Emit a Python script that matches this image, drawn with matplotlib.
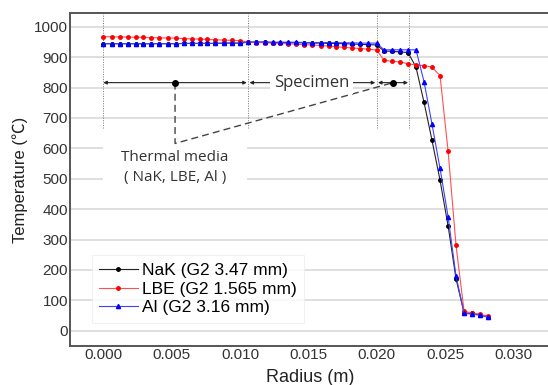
import matplotlib
matplotlib.use("Agg")
import matplotlib.pyplot as plt
from matplotlib.patches import Rectangle
from matplotlib.ticker import FormatStrFormatter

# ---------------- data ----------------
radius = [0.0000, 0.0006, 0.0012, 0.0018, 0.0024, 0.0029, 0.0035, 0.0041, 0.0047,
          0.0053, 0.0059, 0.0065, 0.0071, 0.0076, 0.0082, 0.0088, 0.0094, 0.0100,
          0.0106, 0.0112, 0.0118, 0.0124, 0.0129, 0.0135, 0.0141, 0.0147, 0.0153,
          0.0159, 0.0165, 0.0170, 0.0176, 0.0182, 0.0188, 0.0194, 0.0200,
          0.02054, 0.02113, 0.02171, 0.02230, 0.02288, 0.02347, 0.02405, 0.02464,
          0.02523, 0.02581, 0.02640, 0.02698, 0.02757, 0.02815]

nak = [944, 944, 944, 944, 944, 944, 944, 944, 944, 944, 945, 945, 945, 945, 945, 946, 946, 946,
       949, 949, 949, 948, 948, 948, 947, 947, 946, 946, 945, 945, 944, 943, 942, 941, 940,
       920, 919, 917, 915, 867, 751, 627, 495, 345, 171, 59, 57, 52, 46]

lbe = [967, 967, 966, 966, 965, 965, 964, 963, 963, 962, 961, 960, 959, 958, 957, 956, 955, 954,
       949, 948, 947, 946, 945, 944, 943, 941, 940, 938, 936, 934, 932, 930, 928, 926, 923,
       890, 886, 884, 878, 874, 872, 867, 839, 591, 281, 64, 59, 54, 48]

al = [944, 944, 944, 944, 944, 944, 944, 944, 944, 944, 945, 945, 945, 945, 945, 946, 946, 946,
      950, 950, 950, 949, 949, 949, 949, 948, 948, 948, 948, 947, 947, 947, 946, 946, 946,
      924, 924, 924, 924, 924, 819, 680, 534, 375, 180, 57, 55, 51, 45]

series_labels = ["NaK (G2 3.47 mm)", "LBE (G2 1.565 mm)", "Al (G2 3.16 mm)"]

region_bounds = [0.0, 0.0106, 0.0200, 0.0224]
arrow_y = 816
media_dot_x = 0.00525
gap_dot_x = 0.0212
xticks = [0.000, 0.005, 0.010, 0.015, 0.020, 0.025, 0.030]
yticks = [0, 100, 200, 300, 400, 500, 600, 700, 800, 900, 1000]

# ---------------- figure ----------------
plt.rcParams['font.family'] = ['Liberation Sans', 'Noto Sans CJK KR', 'DejaVu Sans']
fig = plt.figure(figsize=(5.48, 3.85), dpi=100)
ax = fig.add_axes([70/548, 39/385, 478/548, 333.3/385])

ax.set_xlim(-0.002437, 0.03254)
ax.set_ylim(-50, 1046)

ax.yaxis.grid(True, color='#dcdcdc', lw=1.3)
ax.set_axisbelow(True)

# region dotted lines
for b in region_bounds:
    ax.plot([b, b], [668, 1046], ls=(0, (1, 1.5)), color='#777777', lw=0.7, zorder=1)

ax.plot(radius, nak, color='#222222', lw=0.8, marker='o', ms=2.5, mfc='black', mec='black',
        label=series_labels[0], zorder=3)
ax.plot(radius, lbe, color='#ff5050', lw=0.8, marker='o', ms=2.5, mfc='red', mec='red',
        label=series_labels[1], zorder=3)
ax.plot(radius, al, color='#4040ff', lw=0.8, marker='^', ms=3.0, mfc='blue', mec='blue',
        label=series_labels[2], zorder=4)

# annotation arrows
ap = dict(arrowstyle='<|-|>', lw=0.8, color='#222222', shrinkA=0, shrinkB=0, mutation_scale=5)
ax.annotate('', xy=(region_bounds[1] - 0.0001, arrow_y), xytext=(region_bounds[0], arrow_y), arrowprops=ap)
ax.annotate('', xy=(region_bounds[2] - 0.0001, arrow_y), xytext=(region_bounds[1] + 0.0001, arrow_y), arrowprops=ap)
ax.annotate('', xy=(region_bounds[3] - 0.0001, arrow_y), xytext=(region_bounds[2] + 0.0001, arrow_y), arrowprops=ap)
ax.plot([media_dot_x, gap_dot_x], [arrow_y, arrow_y], 'o', color='black', ms=4, zorder=5)

ax.text(0.01524, arrow_y, 'Specimen', ha='center', va='center', fontsize=12,
        family=['Open Sans', 'DejaVu Sans'], color='#333333',
        bbox=dict(facecolor='white', edgecolor='none', pad=2.5), zorder=6)

# dashed leader lines
ax.plot([media_dot_x, media_dot_x, gap_dot_x], [arrow_y, 616, arrow_y], ls=(0, (5, 3)),
        color='#444444', lw=1.0, zorder=4)

# white box behind thermal media label
ax.add_patch(Rectangle((0.0, 469), 0.0105, 138, facecolor='white', edgecolor='none', zorder=2))
ax.text(media_dot_x, 538, 'Thermal media\n( NaK, LBE, Al )', ha='center', va='center',
        fontsize=11, family=['Open Sans', 'DejaVu Sans'], color='#333333', linespacing=1.45,
        zorder=6)

# axes styling
ax.set_xticks(xticks)
ax.set_yticks(yticks)
ax.xaxis.set_major_formatter(FormatStrFormatter('%.3f'))
ax.tick_params(axis='both', length=0, labelsize=11, colors='#333333')
ax.tick_params(axis='x', pad=1.5)
ax.tick_params(axis='y', pad=1.5)
for s in ['left', 'bottom', 'top']:
    ax.spines[s].set_color('#555555')
    ax.spines[s].set_linewidth(1.4)
ax.spines['right'].set_visible(False)

ax.set_xlabel('Radius (m)', fontsize=13, color='#222222')
ax.xaxis.set_label_coords(0.503, -0.096)
ax.xaxis.label.set_verticalalignment('center')
ax.set_ylabel('Temperature (℃)', fontsize=12, color='#222222')
ax.yaxis.set_label_coords(-0.1046, 0.498)
ax.yaxis.label.set_verticalalignment('center')

leg = ax.legend(loc='upper left', bbox_to_anchor=(0.045, 0.273), fontsize=12.5, frameon=True,
                fancybox=False, edgecolor='#eeeeee', handlelength=2.2, handletextpad=0.25,
                labelspacing=0.2, borderpad=0.45, borderaxespad=0)
leg.get_frame().set_linewidth(0.8)

fig.savefig('out.png', dpi=100)
